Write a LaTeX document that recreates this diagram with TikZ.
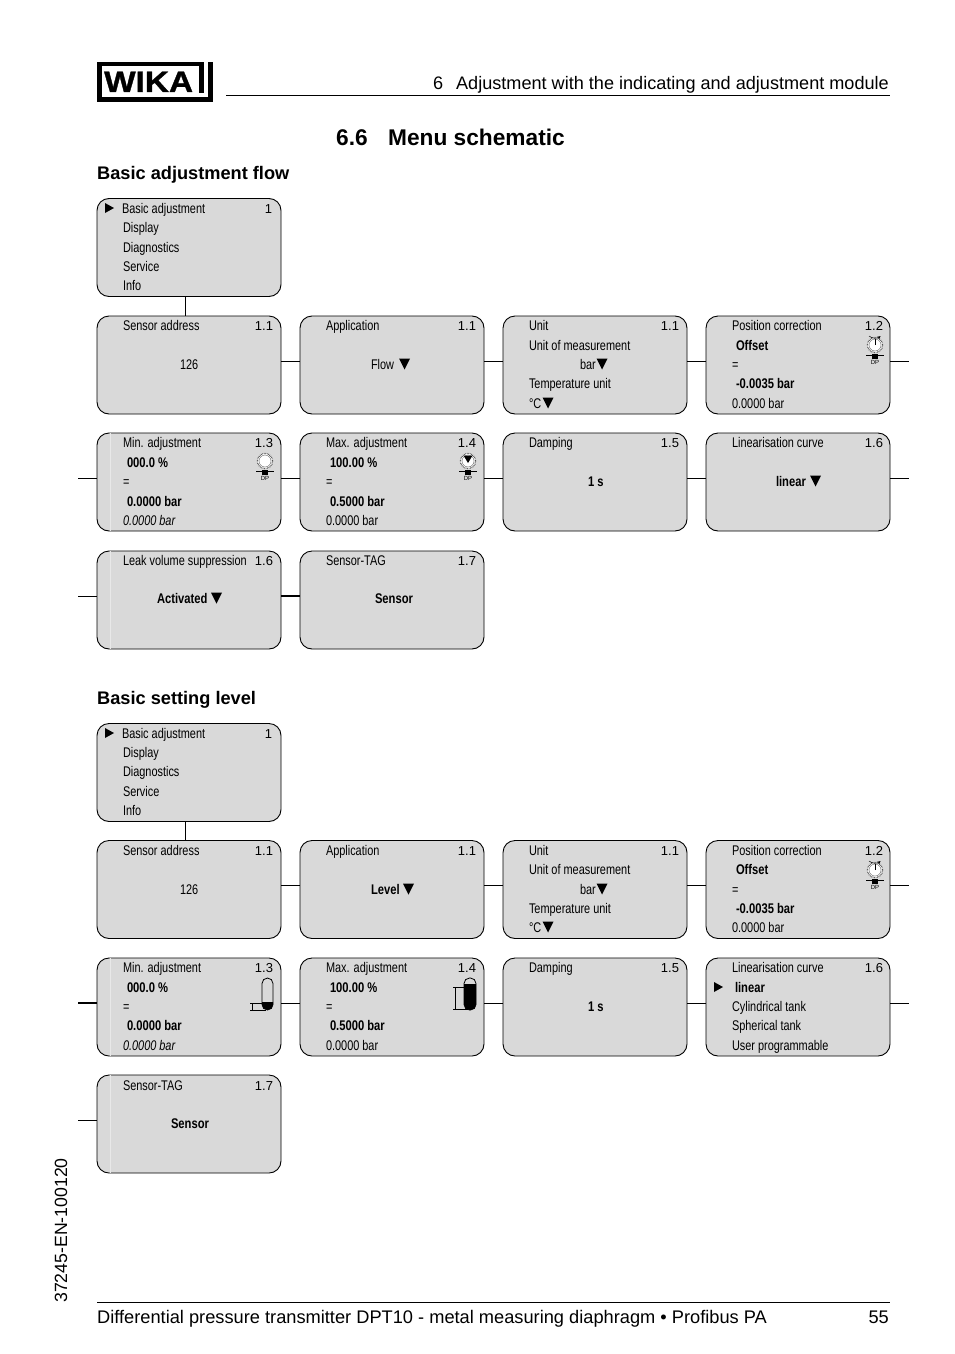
\documentclass[tikz,border=0pt]{standalone}
\usepackage{fontspec}
\setmainfont{Liberation Sans}
\newfontfamily\nar[FakeStretch=0.78]{Liberation Sans}
\newfontfamily\narb[FakeStretch=0.8]{Liberation Sans Bold}
\newfontfamily\wikaf[FakeStretch=1.13,FakeBold=1.2]{Liberation Sans Bold}
\tikzset{
  x=1pt,y=-1pt,
  menubox/.style={draw=black,line width=0.9pt,fill=boxgrey,rounded corners=12pt,minimum width=184pt,minimum height=98pt,inner sep=0pt,outer sep=0pt},
  link/.style={draw=black,line width=0.9pt},
  heavylink/.style={draw=black,line width=1.5pt},
  rule/.style={draw=black,line width=0.8pt},
  lab/.style={anchor=base west,inner sep=0pt,outer sep=0pt,font=\fontsize{14}{14}\selectfont\nar},
  boldlab/.style={anchor=base west,inner sep=0pt,outer sep=0pt,font=\fontsize{14}{14}\selectfont\narb},
  itlab/.style={anchor=base west,inner sep=0pt,outer sep=0pt,font=\fontsize{14}{14}\selectfont\nar\itshape},
  num/.style={anchor=base east,inner sep=0pt,outer sep=0pt,font=\fontsize{13}{13}\selectfont},
}
\definecolor{boxgrey}{HTML}{D9D9D9}
\definecolor{stripe}{HTML}{E8E8E8}
\newcount\lblc
\newcommand{\T}[4][lab]{\global\advance\lblc by 1 \node[#1] (t\the\lblc) at (#2,#3) {#4};}
\newcommand{\N}[3]{\global\advance\lblc by 1 \node[num] (t\the\lblc) at (#1,#2) {#3};}
\newcommand{\dn}[2]{\fill (#1-5.5,#2-5.5) -- (#1+5.5,#2-5.5) -- (#1,#2+5.5) -- cycle;}
\newcommand{\rt}[2]{\fill (#1-4.5,#2-5) -- (#1+4.5,#2) -- (#1-4.5,#2+5) -- cycle;}
\newcommand{\MB}[3]{\node[menubox,anchor=north west] (#1) at (#2,#3) {};}
\newcommand{\ST}[1]{\draw[stripe,line width=0.9pt] ([xshift=13pt]#1.north west) -- ([xshift=13pt]#1.south west);}
\newcommand{\dialbase}[2]{%
  \fill[white] (#1,#2) circle (7.8);
  \draw[line width=1.2pt,dash pattern=on 0.6pt off 0.9pt,black!75] (#1,#2) circle (7.6);
  \draw[line width=0.4pt,black!60] (#1,#2) circle (6);
  \draw[line width=0.7pt] (#1-9,#2+10) -- (#1+9,#2+10);
  \fill (#1-2.8,#2+8.8) rectangle (#1+2.8,#2+14);
  \global\advance\lblc by 1
  \node[inner sep=0pt,font=\fontsize{6}{6}\selectfont] (t\the\lblc) at (#1,#2+17.5) {DP};}
\begin{document}
\begin{tikzpicture}
\useasboundingbox (0,0) rectangle (954,1354);
\fill[white] (0,0) rectangle (954,1354);
% logo
\fill (97,62) rectangle (213,102);
\fill[white] (101.5,66) rectangle (208,97);
\fill[white] (204,62) rectangle (208,97);
\fill (198.5,66) rectangle (204,92.5);
\node[anchor=base west,inner sep=0pt,font=\fontsize{29.5}{30}\selectfont\wikaf] (logo) at (104,92) {WIKA};
% header
\draw[rule] (226,95) -- (890,95);
\T[anchor=base east,inner sep=0pt,font=\fontsize{18.1}{18}\selectfont]{889}{89}{6\hspace{0.72em}Adjustment with the indicating and adjustment module}
\T[anchor=base west,inner sep=0pt,font=\fontsize{22.7}{24}\selectfont\bfseries]{336}{145}{6.6\hspace{0.9em}Menu schematic}
\T[anchor=base west,inner sep=0pt,font=\fontsize{18.2}{18}\selectfont\bfseries]{97}{179}{Basic adjustment flow}
\T[anchor=base west,inner sep=0pt,font=\fontsize{18.2}{18}\selectfont\bfseries]{97}{704}{Basic setting level}
% group 1 boxes
\MB{a0}{97}{198.5}
\MB{a1}{97}{316}\MB{a2}{300}{316}\MB{a3}{503}{316}\MB{a4}{706}{316}
\MB{b1}{97}{433}\MB{b2}{300}{433}\MB{b3}{503}{433}\MB{b4}{706}{433}
\MB{c1}{97}{551}\MB{c2}{300}{551}
% group 2 boxes
\MB{d0}{97}{723.5}
\MB{e1}{97}{840.5}\MB{e2}{300}{840.5}\MB{e3}{503}{840.5}\MB{e4}{706}{840.5}
\MB{f1}{97}{958}\MB{f2}{300}{958}\MB{f3}{503}{958}\MB{f4}{706}{958}
\MB{g1}{97}{1075}
\ST{b1}\ST{c1}\ST{f1}\ST{g1}
% stubs
\coordinate (as) at (909,361);
\coordinate (bl) at (78,478);
\coordinate (br) at (909,478);
\coordinate (cl) at (78,596);
\coordinate (es) at (909,885.5);
\coordinate (fl) at (78,1003);
\coordinate (fr) at (909,1003);
\coordinate (gl) at (78,1120);
\coordinate (a0d) at (185,296.5);
\coordinate (a1u) at (185,316);
\coordinate (d0d) at (185,821.5);
\coordinate (e1u) at (185,840.5);
% connectors
\draw[link] (a0d) -- (a1u);
\draw[link] (d0d) -- (e1u);
\foreach \p/\q in {a1/a2,a2/a3,a3/a4,b1/b2,b2/b3,b3/b4,e1/e2,e2/e3,e3/e4,f1/f2,f2/f3,f3/f4}
  \draw[link] ([yshift=4pt]\p.east) -- ([yshift=4pt]\q.west);
\draw[heavylink] ([yshift=4pt]c1.east) -- ([yshift=4pt]c2.west);
\draw[link] ([yshift=4pt]a4.east) -- (as);
\draw[link] ([yshift=4pt]b4.east) -- (br);
\draw[link] (bl) -- ([yshift=4pt]b1.west);
\draw[link] (cl) -- ([yshift=4pt]c1.west);
\draw[link] ([yshift=4pt]e4.east) -- (es);
\draw[link] ([yshift=4pt]f4.east) -- (fr);
\draw[heavylink] (fl) -- ([yshift=4pt]f1.west);
\draw[link] (gl) -- ([yshift=4pt]g1.west);
% ---- group 1 text
\rt{109.5}{208}
\T{122}{213}{Basic adjustment}\N{272}{213}{1}
\T{123}{232}{Display}\T{123}{252}{Diagnostics}\T{123}{271}{Service}\T{123}{290}{Info}
\T{123}{330}{Sensor address}\N{273}{330}{1.1}\T{180}{369}{126}
\T{326}{330}{Application}\N{476}{330}{1.1}\T{371}{369}{Flow}\dn{404.5}{364}
\T{529}{330}{Unit}\N{679}{330}{1.1}\T{529}{350}{Unit of measurement}\T{580}{369}{bar}\dn{602}{364}
\T{529}{388}{Temperature unit}\T{529}{408}{°C}\dn{548}{403}
\T{732}{330}{Position correction}\N{883}{330}{1.2}
\T[boldlab]{736}{350}{Offset}\T{732}{369}{=}\T[boldlab]{736}{388}{-0.0035 bar}\T{732}{408}{0.0000 bar}
\dialbase{875}{345}
\draw[line width=0.7pt] (875,345) -- (875,339);
\draw[line width=0.5pt,-stealth] (869,336) arc (130:50:9);
\T{123}{447}{Min. adjustment}\N{273}{447}{1.3}
\T[boldlab]{127}{467}{000.0 \%}\T{123}{486}{=}\T[boldlab]{127}{506}{0.0000 bar}\T[itlab]{123}{525}{0.0000 bar}
\dialbase{265}{461}
\T{326}{447}{Max. adjustment}\N{476}{447}{1.4}
\T[boldlab]{330}{467}{100.00 \%}\T{326}{486}{=}\T[boldlab]{330}{506}{0.5000 bar}\T{326}{525}{0.0000 bar}
\dialbase{468}{461}
\fill (463.5,455.5) -- (472.5,455.5) -- (468,463) -- cycle;
\T{529}{447}{Damping}\N{679}{447}{1.5}\T[boldlab]{588}{486}{1 s}
\T{732}{447}{Linearisation curve}\N{883}{447}{1.6}\T[boldlab]{776}{486}{linear}\dn{815.5}{481}
\T{123}{565}{Leak volume suppression}\N{273}{565}{1.6}\T[boldlab]{157}{603}{Activated}\dn{216.5}{598}
\T{326}{565}{Sensor-TAG}\N{476}{565}{1.7}\T[boldlab]{375}{603}{Sensor}
% ---- group 2 text
\rt{109.5}{733}
\T{122}{738}{Basic adjustment}\N{272}{738}{1}
\T{123}{757}{Display}\T{123}{776}{Diagnostics}\T{123}{796}{Service}\T{123}{815}{Info}
\T{123}{855}{Sensor address}\N{273}{855}{1.1}\T{180}{894}{126}
\T{326}{855}{Application}\N{476}{855}{1.1}\T[boldlab]{371}{894}{Level}\dn{408.5}{889}
\T{529}{855}{Unit}\N{679}{855}{1.1}\T{529}{874}{Unit of measurement}\T{580}{894}{bar}\dn{602}{889}
\T{529}{913}{Temperature unit}\T{529}{932}{°C}\dn{548}{927}
\T{732}{855}{Position correction}\N{883}{855}{1.2}
\T[boldlab]{736}{874}{Offset}\T{732}{894}{=}\T[boldlab]{736}{913}{-0.0035 bar}\T{732}{932}{0.0000 bar}
\dialbase{875}{870}
\draw[line width=0.7pt] (875,870) -- (875,864);
\draw[line width=0.5pt,-stealth] (869,861) arc (130:50:9);
\T{123}{972}{Min. adjustment}\N{273}{972}{1.3}
\T[boldlab]{127}{992}{000.0 \%}\T{123}{1011}{=}\T[boldlab]{127}{1030}{0.0000 bar}\T[itlab]{123}{1050}{0.0000 bar}
\T{326}{972}{Max. adjustment}\N{476}{972}{1.4}
\T[boldlab]{330}{992}{100.00 \%}\T{326}{1011}{=}\T[boldlab]{330}{1030}{0.5000 bar}\T{326}{1050}{0.0000 bar}
\T{529}{972}{Damping}\N{679}{972}{1.5}\T[boldlab]{588}{1011}{1 s}
\T{732}{972}{Linearisation curve}\N{883}{972}{1.6}\rt{718.5}{987}
\T[boldlab]{735}{992}{linear}\T{732}{1011}{Cylindrical tank}\T{732}{1030}{Spherical tank}\T{732}{1050}{User programmable}
\T{123}{1090}{Sensor-TAG}\N{273}{1090}{1.7}\T[boldlab]{171}{1128}{Sensor}
% tanks
\begin{scope}
\clip (261,1002) rectangle (274,1011);
\fill[rounded corners=5.5pt] (262,978) rectangle (273,1010);
\end{scope}
\draw[line width=0.8pt,rounded corners=5.5pt] (262,978) rectangle (273,1010);
\draw[line width=0.7pt] (250,1003) -- (262,1003) (250,1010) -- (266,1010) (252,1003) -- (252,1010);
\begin{scope}
\clip (463,984) rectangle (477,1011);
\fill[rounded corners=5.5pt] (464,978) rectangle (476,1010);
\end{scope}
\draw[line width=0.8pt,rounded corners=5.5pt] (464,978) rectangle (476,1010);
\draw[line width=0.7pt] (453,987) -- (465,987) (453,1009.5) -- (468,1009.5) (455,987) -- (455,1009.5);
% footer
\draw[rule] (97,1302) -- (890,1302);
\T[anchor=base west,inner sep=0pt,font=\fontsize{18.24}{18}\selectfont]{97}{1323}{Differential pressure transmitter DPT10 - metal measuring diaphragm • Profibus PA}
\T[anchor=base east,inner sep=0pt,font=\fontsize{18.24}{18}\selectfont]{889}{1323}{55}
\global\advance\lblc by 1
\node[rotate=90,anchor=base west,inner sep=0pt,font=\fontsize{17.7}{18}\selectfont] (t\the\lblc) at (67,1303) {37245-EN-100120};
\end{tikzpicture}
\end{document}
